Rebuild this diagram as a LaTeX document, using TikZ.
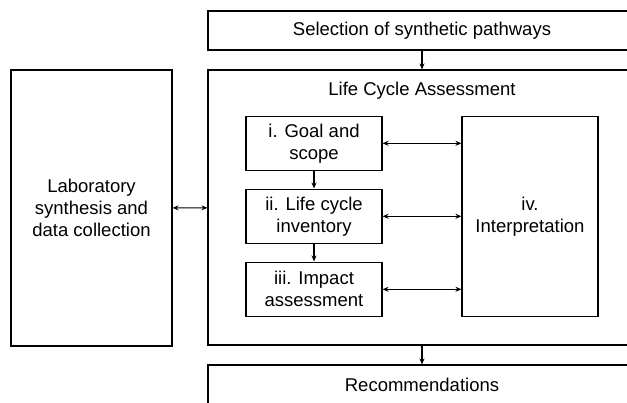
\documentclass[tikz,border=0pt]{standalone}
\usepackage{fontspec}
\setmainfont{Liberation Sans}
\usetikzlibrary{arrows.meta,positioning}

\begin{document}
\begin{tikzpicture}[x=1pt,y=-1pt,node distance=73pt,on grid,line width=1.1pt,
    >={Stealth[length=6pt,width=5pt]},
    block/.style={draw,align=center,font=\fontsize{18.5}{22}\selectfont},
    wide/.style={block,minimum width=428pt,minimum height=39pt},
    step box/.style={block,minimum width=136pt,minimum height=54.5pt}]
	     \clip (0,0) rectangle (627,402);
	     \node[block,minimum width=428pt,minimum height=275pt] (lca) at (422,207.5) {};
	     \node[block,draw=none] (lcatitle) [below=26pt of lca.north,anchor=base] {Life Cycle Assessment};
	     \node[wide] (sel) [above=177pt of lca] {Selection of synthetic pathways};
	     \node[wide] (rec) [below=177pt of lca] {Recommendations};
	     \node[block,minimum width=161pt,minimum height=276pt] (lab) at (91.5,208) {Laboratory\\synthesis and\\data collection};
	     \node[step box] (goal) at (314,143.3) {i. Goal and\\scope};
	     \node[step box] (inv) [below=of goal] {ii. Life cycle\\inventory};
	     \node[step box] (imp) [below=of inv] {iii. Impact\\assessment};
	     \node[block,minimum width=136pt,minimum height=200.5pt] (interp) [right=216pt of inv] {iv.\\Interpretation};

	     \path[->]
	       (sel) edge (lca)
	       (lca) edge (rec)
	       (goal) edge (inv)
	       (inv) edge (imp)
	       (lab) edge [<->] (lca)
	       (goal.east) edge [<->] (goal.east -| interp.west)
	       (inv.east) edge [<->] (inv.east -| interp.west)
	       (imp.east) edge [<->] (imp.east -| interp.west)
	     ;
\end{tikzpicture}
\end{document}
